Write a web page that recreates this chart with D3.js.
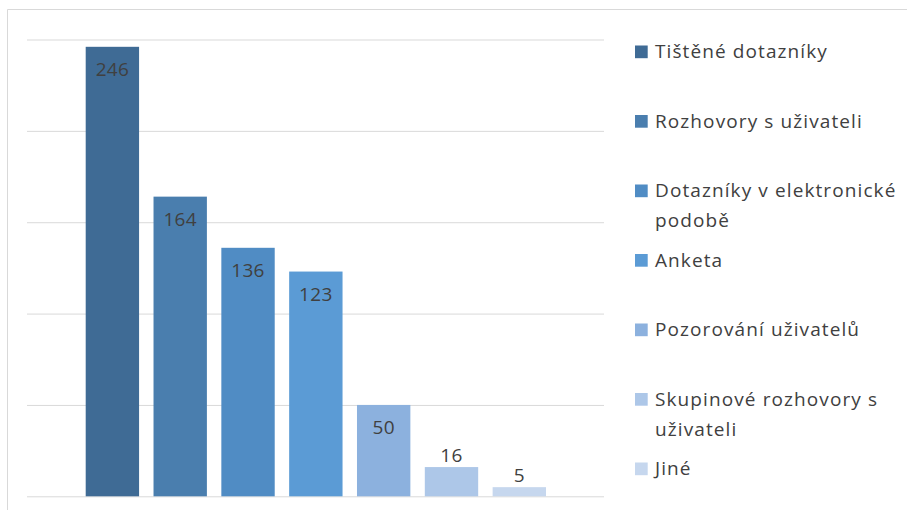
<!DOCTYPE html>
<html>
<head>
<meta charset="utf-8">
<script src="https://cdn.jsdelivr.net/npm/d3@7"></script>
<style>
  html, body { margin: 0; padding: 0; background: #fff; }
  svg { display: block; }
  text { font-family: "Open Sans", Lato, "Liberation Sans", sans-serif; }
</style>
</head>
<body>
<svg id="chart" width="907" height="510"></svg>
<script>
// Survey methods and number of responses
const methods = [
  "Tištěné dotazníky",
  "Rozhovory s uživateli",
  "Dotazníky v elektronické podobě",
  "Anketa",
  "Pozorování uživatelů",
  "Skupinové rozhovory s uživateli",
  "Jiné"
];
const counts = [246, 164, 136, 123, 50, 16, 5];
const colors = ["#3f6b95", "#4a7eae", "#508cc4", "#5b9bd5", "#8cb1de", "#adc7e8", "#c6d7ee"];
const yTicks = [0, 50, 100, 150, 200, 250];

const data = methods.map((m, i) => ({ name: m, value: counts[i], color: colors[i] }));

const svg = d3.select("#chart");
const W = 907, H = 510;

// chart frame (cut off at right and bottom edges)
svg.append("path")
  .attr("d", `M7.5,${H} V9.5 H${W}`)
  .attr("fill", "none")
  .attr("stroke", "#d9d9d9")
  .attr("stroke-width", 1);

const plot = { left: 27, right: 604, top: 39.5, bottom: 496.3 };

const y = d3.scaleLinear().domain([0, 250]).range([plot.bottom, plot.top]);
const x = d3.scaleBand()
  .domain(methods)
  .range([85.7, 546])
  .paddingInner(0.213)
  .paddingOuter(0);

// horizontal gridlines
const yAxis = d3.axisLeft(y)
  .tickValues(yTicks)
  .tickSize(-(plot.right - plot.left))
  .tickFormat("");
const gy = svg.append("g")
  .attr("transform", `translate(${plot.left},0)`)
  .call(yAxis);
gy.select(".domain").remove();
gy.selectAll(".tick line").attr("stroke", "#d9d9d9").attr("stroke-width", 1);

// bars
svg.append("g").selectAll("rect")
  .data(data)
  .join("rect")
  .attr("x", d => x(d.name))
  .attr("y", d => y(d.value))
  .attr("width", x.bandwidth())
  .attr("height", d => y(0) - y(d.value))
  .attr("fill", d => d.color);

// value labels: inside the bar top, or above it for short bars
svg.append("g").selectAll("text")
  .data(data)
  .join("text")
  .attr("x", d => x(d.name) + x.bandwidth() / 2)
  .attr("y", d => {
    const h = y(0) - y(d.value);
    return h > 40 ? y(d.value) + 29.5 : y(d.value) - 5.5;
  })
  .attr("text-anchor", "middle")
  .attr("font-size", 19)
  .attr("letter-spacing", 0.3)
  .attr("fill", "#404040")
  .text(d => d.value);

// legend
const legend = svg.append("g");
const legendX = 635, textX = 655, firstBase = 58.3, slot = 69.5, lineH = 30, maxW = 250;
const fontSize = 19;

data.forEach((d, i) => {
  const base = firstBase + i * slot;
  const g = legend.append("g");
  g.append("rect")
    .attr("x", legendX)
    .attr("y", base - 12.8)
    .attr("width", 12.7)
    .attr("height", 12.7)
    .attr("fill", d.color);
  const t = g.append("text")
    .attr("x", textX)
    .attr("y", base)
    .attr("font-size", fontSize)
    .attr("letter-spacing", 1.1)
    .attr("fill", "#404040");
  // wrap long names across lines
  const words = d.name.split(" ");
  let line = [];
  let lineNo = 0;
  let tspan = t.append("tspan").attr("x", textX).attr("y", base);
  words.forEach(w => {
    line.push(w);
    tspan.text(line.join(" "));
    if (tspan.node().getComputedTextLength() > maxW && line.length > 1) {
      line.pop();
      tspan.text(line.join(" "));
      line = [w];
      lineNo++;
      tspan = t.append("tspan").attr("x", textX).attr("y", base + lineNo * lineH).text(w);
    }
  });
});
</script>
</body>
</html>
